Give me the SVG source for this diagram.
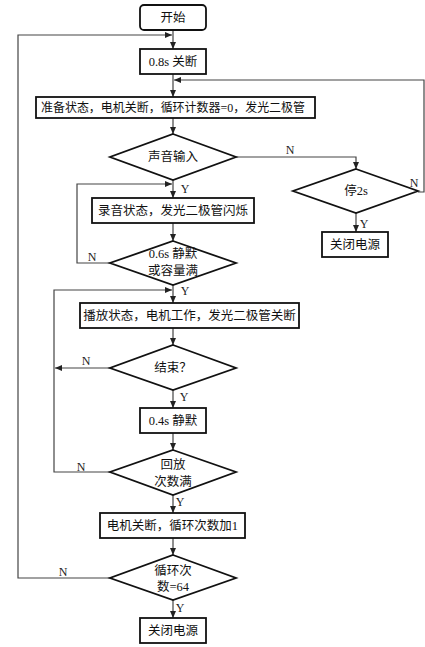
<svg xmlns="http://www.w3.org/2000/svg" width="425" height="647" viewBox="0 0 425 647">
<style>
.box{fill:#fff;stroke:#111;stroke-width:1.8}
.dia{fill:#fff;stroke:#111;stroke-width:1.8}
.ln{fill:none;stroke:#444;stroke-width:1.2}
.t{font-family:"Liberation Serif","Noto Sans CJK SC",serif;font-size:12.5px;fill:#111;text-anchor:middle;dominant-baseline:central}
.lb{font-family:"Liberation Serif",serif;font-size:12px;fill:#222;text-anchor:middle;dominant-baseline:central}
</style>
<defs>
<marker id="ar" markerWidth="7" markerHeight="6" refX="7" refY="3" orient="auto" markerUnits="userSpaceOnUse">
<path d="M0,0 L7,3 L0,6 Z" fill="#222"/>
</marker>
</defs>
<rect width="425" height="647" fill="#fff"/>
<g id="connectors">
<path class="ln" d="M173,30 V49" marker-end="url(#ar)"/>
<path class="ln" d="M110,578 H18 V35 H172" marker-end="url(#ar)"/>
<path class="ln" d="M173,74 V97" marker-end="url(#ar)"/>
<path class="ln" d="M418,192 H424 V80 H174" marker-end="url(#ar)"/>
<path class="ln" d="M173,118 V134" marker-end="url(#ar)"/>
<path class="ln" d="M236,157 H356 V169" marker-end="url(#ar)"/>
<path class="ln" d="M173,180 V198" marker-end="url(#ar)"/>
<path class="ln" d="M110,263 H77 V184 H172" marker-end="url(#ar)"/>
<path class="ln" d="M356,213 V232" marker-end="url(#ar)"/>
<path class="ln" d="M173,223 V241" marker-end="url(#ar)"/>
<path class="ln" d="M173,285 V303" marker-end="url(#ar)"/>
<path class="ln" d="M110,472 H54 V290 H172" marker-end="url(#ar)"/>
<path class="ln" d="M110,368 H55" marker-end="url(#ar)"/>
<path class="ln" d="M173,328 V345" marker-end="url(#ar)"/>
<path class="ln" d="M173,390 V408" marker-end="url(#ar)"/>
<path class="ln" d="M173,433 V450" marker-end="url(#ar)"/>
<path class="ln" d="M173,495 V513" marker-end="url(#ar)"/>
<path class="ln" d="M173,538 V555" marker-end="url(#ar)"/>
<path class="ln" d="M173,600 V618" marker-end="url(#ar)"/>
<text class="lb" x="290" y="150">N</text>
<text class="lb" x="414" y="183">N</text>
<text class="lb" x="364" y="224">Y</text>
<text class="lb" x="185" y="189">Y</text>
<text class="lb" x="92" y="257">N</text>
<text class="lb" x="185" y="291">Y</text>
<text class="lb" x="86" y="361">N</text>
<text class="lb" x="184" y="397">Y</text>
<text class="lb" x="81" y="467">N</text>
<text class="lb" x="180" y="502">Y</text>
<text class="lb" x="63" y="572">N</text>
<text class="lb" x="180" y="608">Y</text>
</g>
<g id="start">
<rect class="box" x="140" y="5" width="66" height="25" rx="4"/>
<text class="t" x="173" y="17.5">开始</text>
</g>
<g id="off08">
<rect class="box" x="140" y="49" width="66" height="25"/>
<text class="t" x="173" y="61.5">0.8s 关断</text>
</g>
<g id="ready">
<rect class="box" x="36" y="97" width="279" height="21"/>
<text class="t" x="173" y="107.5" textLength="264" lengthAdjust="spacingAndGlyphs">准备状态，电机关断，循环计数器=0，发光二极管</text>
</g>
<g id="soundIn">
<polygon class="dia" points="173,134 236,157 173,180 110,157"/>
<text class="t" x="173" y="157">声音输入</text>
</g>
<g id="stop2s">
<polygon class="dia" points="356,169 418,191 356,213 293,191"/>
<text class="t" x="356" y="191">停2s</text>
</g>
<g id="powerOff1">
<rect class="box" x="322" y="232" width="66" height="25"/>
<text class="t" x="355" y="244.5">关闭电源</text>
</g>
<g id="record">
<rect class="box" x="92" y="198" width="162" height="25"/>
<text class="t" x="173" y="210.5">录音状态，发光二极管闪烁</text>
</g>
<g id="silence06">
<polygon class="dia" points="173,241 236,263 173,285 110,263"/>
<text class="t" x="173" y="254">0.6s 静默</text>
<text class="t" x="173" y="271">或容量满</text>
</g>
<g id="play">
<rect class="box" x="80" y="303" width="219" height="25"/>
<text class="t" x="189.5" y="315.5">播放状态，电机工作，发光二极管关断</text>
</g>
<g id="endQ">
<polygon class="dia" points="173,345 236,368 173,390 110,368"/>
<text class="t" x="173" y="368">结束？</text>
</g>
<g id="silence04">
<rect class="box" x="140" y="408" width="66" height="25"/>
<text class="t" x="173" y="420.5">0.4s 静默</text>
</g>
<g id="replayFull">
<polygon class="dia" points="173,450 236,472 173,495 110,472"/>
<text class="t" x="173" y="465">回放</text>
<text class="t" x="173" y="482">次数满</text>
</g>
<g id="motorOff">
<rect class="box" x="100" y="513" width="145" height="25"/>
<text class="t" x="172.5" y="525.5">电机关断，循环次数加1</text>
</g>
<g id="loop64">
<polygon class="dia" points="173,555 236,578 173,600 110,578"/>
<text class="t" x="173" y="571">循环次</text>
<text class="t" x="173" y="587">数=64</text>
</g>
<g id="powerOff2">
<rect class="box" x="140" y="618" width="66" height="25"/>
<text class="t" x="173" y="630.5">关闭电源</text>
</g>
</svg>
